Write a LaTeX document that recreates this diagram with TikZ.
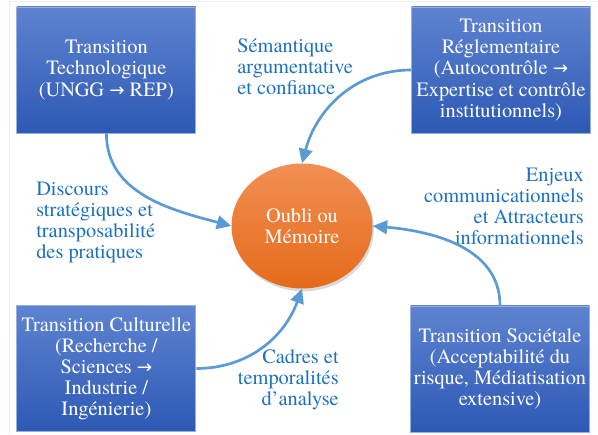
\documentclass[tikz,border=0pt]{standalone}
\usepackage{fontspec}
\setmainfont{texgyretermes}[Extension=.otf,UprightFont=*-regular,BoldFont=*-bold,ItalicFont=*-italic,BoldItalicFont=*-bolditalic]
\newfontfamily\arrowfont{DejaVu Sans}
\usetikzlibrary{arrows.meta,shapes.geometric,shadows}
\definecolor{boxtop}{RGB}{94,131,208}
\definecolor{boxbot}{RGB}{45,89,181}
\definecolor{boxline}{RGB}{150,175,225}
\definecolor{orgtop}{RGB}{241,143,84}
\definecolor{orgbot}{RGB}{229,106,26}
\definecolor{linkblue}{RGB}{91,155,213}
\definecolor{labelblue}{RGB}{28,114,192}
\newcommand{\toarrow}{{\arrowfont\fontsize{13}{15}\selectfont →}}
\begin{document}
\begin{tikzpicture}[
	every node/.append style={font=\fontsize{14.5}{15}\selectfont},
	box/.style={rectangle,draw=boxline,line width=0.6pt,top color=boxtop,bottom color=boxbot,text=white,align=center,minimum width=4.475cm,minimum height=3.15cm,inner sep=2pt},
	hub/.style={ellipse,top color=orgtop,bottom color=orgbot,text=white,align=center,minimum width=3.525cm,minimum height=3.125cm,drop shadow={opacity=0.3,shadow xshift=1pt,shadow yshift=-2pt}},
	lbl/.style={text=labelblue,inner sep=0pt},
	link/.style={linkblue,line width=1.9pt,-{Triangle[length=3.6mm,width=3.4mm]}}]
	\useasboundingbox (0,0) rectangle (14.95,10.85);
	\draw[gray!12] (0.225,0) -- (0.225,10.825) -- (14.95,10.825);
	\node[box] at (2.66,9.1) (techno) {Transition\\Technologique\\(UNGG \toarrow{} REP)};
	\node[box] at (12.525,9.1) (regle) {Transition\\Réglementaire\\(Autocontrôle \toarrow\\Expertise et contrôle\\institutionnels)};
	\node[box] at (2.66,1.6375) (culture) {Transition Culturelle\\(Recherche /\\Sciences \toarrow\\Industrie /\\Ingénierie)};
	\node[box] at (12.5,1.625) (societe) {Transition Sociétale\\(Acceptabilité du\\risque, Médiatisation\\extensive)};
	\node[hub] at (7.55,5.2) (oubli) {Oubli ou\\Mémoire};
	\node[lbl,anchor=west,align=left] at (5.925,9.175) (semantique) {Sémantique\\argumentative\\et confiance};
	\node[lbl,anchor=west,align=left] at (0.9,5.2875) (discours) {Discours\\stratégiques et\\transposabilité\\des pratiques};
	\node[lbl,anchor=east,align=right] at (14.6,5.7) (enjeux) {Enjeux\\communicationnels\\et Attracteurs\\informationnels};
	\node[lbl,anchor=east,align=right] at (8.475,1.35) (cadres) {Cadres et\\temporalités\\d’analyse};
	\draw[link] (techno.south) to[out=-90,in=165] (oubli.west);
	\draw[link] (regle.west) to[out=180,in=75] (oubli.north);
	\draw[link] (culture.east) to[out=0,in=-110] (oubli.south);
	\draw[link] (societe.north) to[out=90,in=-5] (oubli.east);
\end{tikzpicture}
\end{document}
